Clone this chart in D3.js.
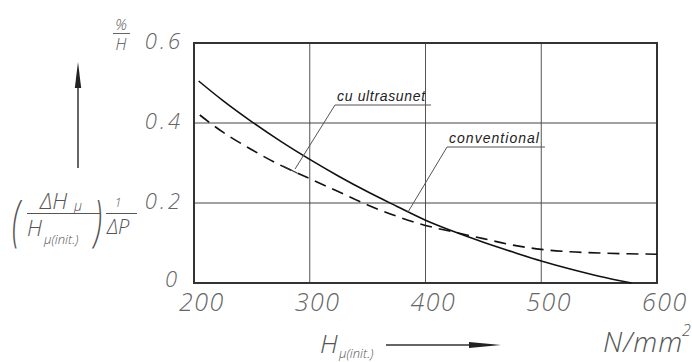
<!DOCTYPE html>
<html>
<head>
<meta charset="utf-8">
<script src="https://cdn.jsdelivr.net/npm/d3@7"></script>
<style>
  body { margin: 0; background: #fff; }
  svg { display: block; }
  .tick-lbl { font-family: "Open Sans", "DejaVu Sans", sans-serif; font-style: italic; font-weight: 300; fill: #666; }
  .note { font-family: "Liberation Sans Narrow", "Liberation Sans", sans-serif; font-style: italic; fill: #222; }
  .math { font-family: "Open Sans", "DejaVu Sans", sans-serif; font-style: italic; font-weight: 300; fill: #555; }
</style>
</head>
<body>
<div class="chart-container"></div>
<script>
  // axis ticks
  var xTicks = [200, 300, 400, 500, 600];
  var yTicks = [0, 0.2, 0.4, 0.6];
  var yTickLabels = ["0", "0.2", "0.4", "0.6"];

  // curve "cu ultrasunet" (solid)
  var ultraX = [204, 225, 250, 275, 300, 325, 350, 375, 400, 425, 450, 475, 500, 525, 550, 578];
  var ultraY = [0.505, 0.456, 0.403, 0.354, 0.309, 0.267, 0.228, 0.192, 0.157, 0.128, 0.102, 0.078, 0.055, 0.035, 0.017, 0.0];

  // curve "conventional" (dashed)
  var convX = [205, 225, 250, 275, 300, 325, 350, 375, 400, 425, 450, 475, 500, 525, 550, 575, 600];
  var convY = [0.42, 0.377, 0.333, 0.294, 0.261, 0.228, 0.195, 0.167, 0.144, 0.127, 0.111, 0.095, 0.084, 0.078, 0.075, 0.073, 0.072];

  // annotations: label, underline start/end, leader end (data units)
  var noteLabels = ["cu ultrasunet", "conventional"];
  var noteStart = [[321.8, 0.445], [418.6, 0.34]];
  var noteEnd = [[404.8, 0.445], [503.2, 0.34]];
  var noteTip = [[287.3, 0.285], [384.9, 0.1775]];

  var W = 692, H = 362;
  var margin = {top: 43, right: 35, bottom: 79, left: 194};

  var x = d3.scaleLinear().domain([200, 600]).range([margin.left, W - margin.right]);
  var y = d3.scaleLinear().domain([0, 0.6]).range([H - margin.bottom, margin.top]);

  var svg = d3.select(".chart-container").append("svg")
      .attr("width", W)
      .attr("height", H);

  // grid
  var grid = svg.append("g").attr("class", "grid");
  grid.selectAll("line.vx")
      .data(xTicks.slice(1, -1))
    .enter().append("line")
      .attr("x1", function(d) { return x(d); })
      .attr("x2", function(d) { return x(d); })
      .attr("y1", y(0)).attr("y2", y(0.6))
      .attr("stroke", "#555").attr("stroke-width", 1);
  grid.selectAll("line.hy")
      .data(yTicks.slice(1, -1))
    .enter().append("line")
      .attr("y1", function(d) { return y(d); })
      .attr("y2", function(d) { return y(d); })
      .attr("x1", x(200)).attr("x2", x(600))
      .attr("stroke", "#444").attr("stroke-width", 1);

  // frame
  svg.append("rect")
      .attr("x", x(200)).attr("y", y(0.6))
      .attr("width", x(600) - x(200))
      .attr("height", y(0) - y(0.6))
      .attr("fill", "none")
      .attr("stroke", "#333")
      .attr("stroke-width", 2);

  // tick labels
  svg.selectAll("text.xt")
      .data(xTicks)
    .enter().append("text")
      .attr("class", "tick-lbl")
      .attr("x", function(d) { return x(d) + 8; })
      .attr("y", 311)
      .attr("text-anchor", "middle")
      .attr("font-size", 25)
      .attr("letter-spacing", 1.5)
      .text(function(d) { return d; });

  svg.selectAll("text.yt")
      .data(yTicks)
    .enter().append("text")
      .attr("class", "tick-lbl")
      .attr("x", function(d) { return d === 0 ? 180 : 183; })
      .attr("y", function(d) { return y(d) + (d === 0 ? 4 : 6); })
      .attr("text-anchor", "end")
      .attr("font-size", 22)
      .attr("letter-spacing", 3)
      .text(function(d, i) { return yTickLabels[i]; });

  // curves
  var line = d3.line()
      .x(function(d) { return x(d[0]); })
      .y(function(d) { return y(d[1]); })
      .curve(d3.curveCatmullRom.alpha(0.5));

  svg.append("path")
      .datum(convX.map(function(v, i) { return [v, convY[i]]; }))
      .attr("d", line)
      .attr("fill", "none")
      .attr("stroke", "#111")
      .attr("stroke-width", 1.6)
      .attr("stroke-dasharray", "12,7");

  svg.append("path")
      .datum(ultraX.map(function(v, i) { return [v, ultraY[i]]; }))
      .attr("d", line)
      .attr("fill", "none")
      .attr("stroke", "#111")
      .attr("stroke-width", 1.6);

  // annotations
  noteLabels.forEach(function(lbl, i) {
    var g = svg.append("g");
    g.append("line")
        .attr("x1", x(noteStart[i][0])).attr("y1", y(noteStart[i][1]))
        .attr("x2", x(noteEnd[i][0])).attr("y2", y(noteEnd[i][1]))
        .attr("stroke", "#555").attr("stroke-width", 1);
    g.append("line")
        .attr("x1", x(noteStart[i][0])).attr("y1", y(noteStart[i][1]))
        .attr("x2", x(noteTip[i][0])).attr("y2", y(noteTip[i][1]))
        .attr("stroke", "#555").attr("stroke-width", 1);
    var tw = x(noteEnd[i][0]) - x(noteStart[i][0]) - 8;
    g.append("text")
        .attr("class", "note")
        .attr("x", x(noteStart[i][0]) + 2)
        .attr("y", y(noteStart[i][1]) - 4)
        .attr("font-size", 14)
        .attr("textLength", tw)
        .attr("lengthAdjust", "spacing")
        .text(lbl);
  });
  // small tick at the end of first leader
  svg.append("line")
      .attr("x1", x(276.9)).attr("y1", y(0.2925))
      .attr("x2", x(289)).attr("y2", y(0.275))
      .attr("stroke", "#333").attr("stroke-width", 1.3);

  // arrows drawn as line + narrow filled head
  function arrow(g, x1, y1, x2, y2, headLen, headHalf) {
    var dx = x2 - x1, dy = y2 - y1, len = Math.sqrt(dx * dx + dy * dy);
    var ux = dx / len, uy = dy / len;
    var bx = x2 - ux * headLen, by = y2 - uy * headLen;
    g.append("line")
        .attr("x1", x1).attr("y1", y1).attr("x2", bx).attr("y2", by)
        .attr("stroke", "#333").attr("stroke-width", 1.5);
    g.append("path")
        .attr("d", "M" + x2 + "," + y2 +
                   "L" + (bx - uy * headHalf) + "," + (by + ux * headHalf) +
                   "L" + (bx + uy * headHalf) + "," + (by - ux * headHalf) + "Z")
        .attr("fill", "#222");
  }

  // y axis quantity
  var yl = svg.append("g").attr("class", "ylab");
  arrow(yl, 78, 168, 78, 62, 26, 3.2);

  yl.append("text").attr("class", "math")
      .attr("transform", "translate(12,240) scale(0.7,1.25)")
      .attr("font-size", 44).attr("font-weight", 200)
      .text("(");
  yl.append("text").attr("class", "math")
      .attr("transform", "translate(94,240) scale(0.7,1.25)")
      .attr("font-size", 44).attr("font-weight", 200)
      .text(")");
  yl.append("text").attr("class", "math").attr("x", 40).attr("y", 209)
      .attr("font-size", 22).text("ΔH");
  yl.append("text").attr("class", "math").attr("x", 74).attr("y", 211)
      .attr("font-size", 14).text("μ");
  yl.append("line").attr("x1", 27).attr("x2", 100).attr("y1", 213.5).attr("y2", 213.5)
      .attr("stroke", "#555").attr("stroke-width", 1);
  yl.append("text").attr("class", "math").attr("x", 27).attr("y", 236)
      .attr("font-size", 22).text("H");
  yl.append("text").attr("class", "math").attr("x", 44).attr("y", 244)
      .attr("font-size", 13).text("μ(init.)");
  yl.append("text").attr("class", "math").attr("x", 118).attr("y", 207)
      .attr("font-size", 12).attr("text-anchor", "middle").text("1");
  yl.append("line").attr("x1", 106).attr("x2", 137).attr("y1", 213.5).attr("y2", 213.5)
      .attr("stroke", "#555").attr("stroke-width", 1);
  yl.append("text").attr("class", "math").attr("x", 107).attr("y", 234)
      .attr("font-size", 20).text("ΔP");

  // unit %/H
  yl.append("text").attr("class", "math").attr("x", 121).attr("y", 30)
      .attr("font-size", 15).attr("text-anchor", "middle").text("%");
  yl.append("line").attr("x1", 113).attr("x2", 130).attr("y1", 33.5).attr("y2", 33.5)
      .attr("stroke", "#666").attr("stroke-width", 1);
  yl.append("text").attr("class", "math").attr("x", 121).attr("y", 50)
      .attr("font-size", 16).attr("text-anchor", "middle").text("H");

  // x axis quantity
  var xl = svg.append("g").attr("class", "xlab");
  xl.append("text").attr("class", "math").attr("x", 320).attr("y", 353)
      .attr("font-size", 26).text("H");
  xl.append("text").attr("class", "math").attr("x", 339).attr("y", 358)
      .attr("font-size", 13).text("μ(init.)");
  arrow(xl, 386, 345, 501, 345, 32, 3);
  xl.append("text").attr("class", "math").attr("x", 603).attr("y", 352)
      .attr("font-size", 28).attr("letter-spacing", 1).text("N/mm");
  xl.append("text").attr("class", "math").attr("x", 682).attr("y", 336)
      .attr("font-size", 16).text("2");
</script>
</body>
</html>
